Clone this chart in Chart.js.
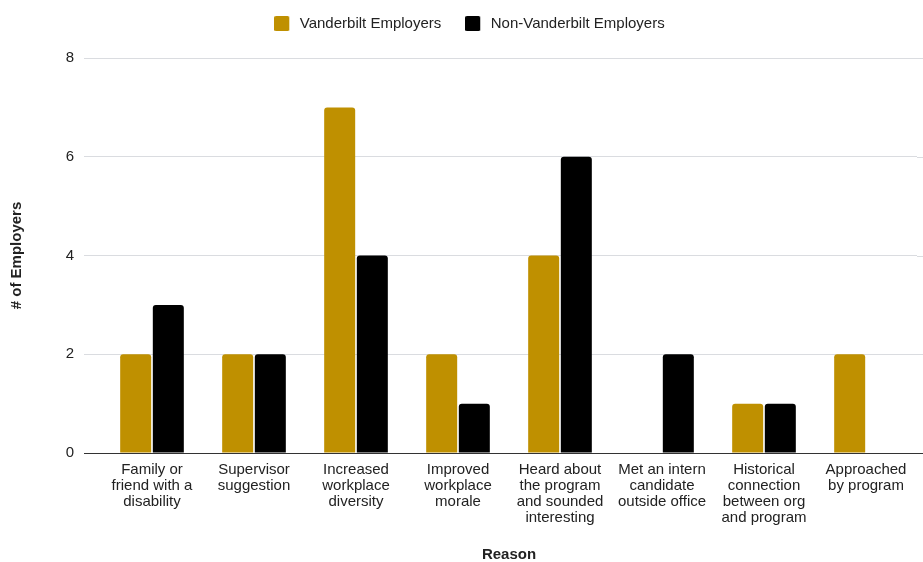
<!DOCTYPE html>
<html><head><meta charset="utf-8">
<script src="https://cdn.jsdelivr.net/npm/chart.js@4"></script>
<style>html,body{margin:0;padding:0;background:#fff}#wrap{width:923px;height:562px}</style>
</head><body><div id="wrap"><canvas id="c"></canvas></div>
<script>
const categories = [
  ["Family or","friend with a","disability"],
  ["Supervisor","suggestion"],
  ["Increased","workplace","diversity"],
  ["Improved","workplace","morale"],
  ["Heard about","the program","and sounded","interesting"],
  ["Met an intern","candidate","outside office"],
  ["Historical","connection","between org","and program"],
  ["Approached","by program"]
];
const vanderbilt = [2, 2, 7, 2, 4, 0, 1, 2];
const nonVanderbilt = [3, 2, 4, 1, 6, 2, 1, 0];
const yTicks = [0, 2, 4, 6, 8];
const seriesNames = ['Vanderbilt Employers', 'Non-Vanderbilt Employers'];
const seriesColors = ['#bf9000', '#000000'];

const font = "'Liberation Sans', Arial, sans-serif";

function legendSwatch(color) {
  const cv = document.createElement('canvas');
  cv.width = 18; cv.height = 15;
  const g = cv.getContext('2d');
  g.fillStyle = color;
  g.beginPath();
  if (g.roundRect) g.roundRect(0, 0, 15, 15, 1.5); else g.rect(0, 0, 15, 15);
  g.fill();
  return cv;
}

const extendGrid = {
  id: 'extendGrid',
  beforeDatasetsDraw(chart) {
    const y = chart.scales.y, ca = chart.chartArea, ctx = chart.ctx;
    ctx.save();
    y.ticks.forEach(t => {
      const py = Math.round(y.getPixelForValue(t.value)) + 0.5;
      ctx.beginPath();
      ctx.strokeStyle = t.value === 0 ? '#333333' : '#dadce0';
      ctx.lineWidth = 1;
      ctx.moveTo(ca.right, py); ctx.lineTo(ca.right + 6, py); ctx.stroke();
    });
    ctx.restore();
  }
};

const chart = new Chart(document.getElementById('c'), {
  type: 'bar',
  data: {
    labels: categories,
    datasets: [
      {label: seriesNames[0], data: vanderbilt, backgroundColor: seriesColors[0], borderRadius: 3, borderSkipped: 'bottom', pointStyle: legendSwatch(seriesColors[0])},
      {label: seriesNames[1], data: nonVanderbilt, backgroundColor: seriesColors[1], borderRadius: 3, borderSkipped: 'bottom', pointStyle: legendSwatch(seriesColors[1])}
    ]
  },
  options: {
    responsive: true, maintainAspectRatio: false, animation: false,
    categoryPercentage: 0.64, barPercentage: 0.95,
    layout: {padding: {top: -8, right: 6, bottom: -2, left: 0}},
    plugins: {
      legend: {
        position: 'top',
        labels: {usePointStyle: true, pointStyleWidth: 18, boxHeight: 15, padding: 24, color: '#222', font: {family: font, size: 15}}
      },
      tooltip: {enabled: false}
    },
    scales: {
      x: {
        grid: {display: false, drawOnChartArea: false, drawTicks: false},
        border: {display: true, color: '#333333'},
        ticks: {color: '#222', font: {family: font, size: 15, lineHeight: 1.07}, padding: 9, maxRotation: 0, autoSkip: false},
        title: {display: true, text: 'Reason', color: '#222', font: {family: font, size: 15, weight: 'bold'}, padding: {top: 0, bottom: 0}},
        afterFit(s) { s.height = 111; }
      },
      y: {
        min: 0, max: 8,
        afterBuildTicks(s) { s.ticks = yTicks.map(v => ({value: v})); },
        grid: {color: c => c.tick && c.tick.value === 0 ? '#333333' : '#dadce0', tickLength: 17, drawTicks: true},
        border: {display: false},
        ticks: {color: '#222', font: {family: font, size: 15}, padding: 10},
        title: {display: true, text: '# of Employers', color: '#222', font: {family: font, size: 15, weight: 'bold'}, padding: {top: 8, bottom: 0}},
        afterFit(s) { s.width = 101; }
      }
    }
  },
  plugins: [extendGrid]
});
const origFit = chart.legend.fit;
chart.legend.fit = function () { origFit.call(this); this.height = 66; };
const origDraw = chart.legend.draw;
chart.legend.draw = function () {
  const ctx = this.ctx; ctx.save(); ctx.translate(11, 0); origDraw.call(this); ctx.restore();
};
chart.update();
</script></body></html>
